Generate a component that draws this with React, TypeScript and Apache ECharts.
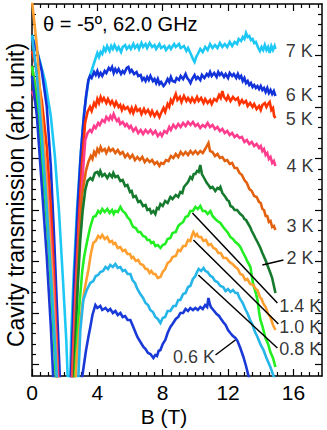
import React, { useEffect, useRef } from "react";
import * as echarts from "echarts";

const FONT = '"Liberation Sans", Arial, Helvetica, sans-serif';

// B (T) vs transmission (arb. unit)
const s7K = [[0, 34.1], [0.4, 32.0], [0.8, 29.5], [1.15, 26.0], [1.4, 22.0], [1.65, 16.5], [1.9, 9.5], [2.1, 3.5], [2.25, -3], [2.3, -3], [2.4, 4.0], [2.55, 10], [2.75, 16.5], [2.95, 21.5], [3.05, 23.6], [3.2, 26.5], [3.45, 29.5], [3.7, 30.8], [3.9, 31.8], [4.0, 32.3], [4.1, 31.9], [4.2, 32.4], [4.3, 32.2], [4.4, 32.8], [4.5, 32.5], [4.6, 33.0], [4.75, 32.5], [4.85, 33.0], [4.95, 32.7], [5.05, 33.1], [5.2, 32.6], [5.3, 32.9], [5.45, 32.4], [5.55, 32.9], [5.7, 33.1], [5.8, 32.7], [5.95, 33.0], [6.05, 32.7], [6.2, 33.2], [6.3, 32.8], [6.45, 33.1], [6.55, 32.7], [6.7, 33.3], [6.8, 32.9], [6.95, 33.2], [7.05, 32.8], [7.2, 33.3], [7.35, 32.9], [7.5, 33.1], [7.6, 32.7], [7.8, 33.2], [7.9, 32.8], [8.1, 33.0], [8.2, 32.6], [8.4, 33.0], [8.5, 32.7], [8.7, 33.2], [8.8, 32.9], [9.0, 33.2], [9.1, 32.8], [9.3, 33.0], [9.45, 32.5], [9.55, 32.8], [9.75, 32.1], [9.85, 31.7], [9.95, 31.4], [10.05, 31.9], [10.15, 32.2], [10.3, 32.7], [10.45, 32.4], [10.6, 32.9], [10.75, 32.6], [10.9, 33.2], [11.05, 32.8], [11.2, 33.1], [11.35, 32.8], [11.5, 33.3], [11.65, 32.9], [11.8, 33.2], [11.95, 32.9], [12.1, 33.4], [12.25, 33.0], [12.4, 33.4], [12.55, 33.2], [12.65, 33.7], [12.8, 33.5], [12.9, 33.9], [13.0, 33.7], [13.1, 34.3], [13.2, 33.9], [13.3, 34.0], [13.4, 33.6], [13.5, 33.7], [13.6, 33.3], [13.7, 33.4], [13.85, 32.8], [13.95, 32.5], [14.05, 32.9], [14.15, 32.6], [14.25, 33.1], [14.35, 32.6], [14.45, 32.9], [14.55, 32.3], [14.65, 33.0], [14.75, 32.6], [14.85, 33.0], [14.9, 32.7]];
const s6K = [[0, 33.8], [0.3, 32.5], [0.6, 30.5], [0.9, 27], [1.15, 21], [1.35, 14], [1.55, 6], [1.7, 0], [1.85, -4], [2.3, -4], [2.45, 3], [2.6, 10], [2.8, 17], [3.0, 22.5], [3.15, 25.5], [3.3, 27.9], [3.45, 29.6], [3.55, 30.0], [3.65, 29.8], [3.8, 30.4], [3.9, 30.1], [4.0, 30.5], [4.1, 30.0], [4.2, 30.3], [4.3, 30.0], [4.45, 30.5], [4.55, 30.3], [4.7, 30.8], [4.8, 30.6], [4.9, 30.9], [5.0, 30.3], [5.1, 30.7], [5.2, 30.4], [5.3, 30.7], [5.45, 30.2], [5.55, 30.5], [5.65, 30.3], [5.8, 30.8], [5.9, 30.9], [6.0, 30.4], [6.1, 30.6], [6.25, 30.2], [6.4, 30.4], [6.5, 30.0], [6.65, 30.1], [6.75, 29.6], [6.85, 29.8], [6.95, 29.5], [7.05, 29.9], [7.15, 29.6], [7.25, 30.0], [7.4, 29.5], [7.5, 29.7], [7.6, 29.3], [7.7, 29.7], [7.8, 29.2], [7.9, 29.4], [8.05, 29.0], [8.15, 29.2], [8.3, 29.7], [8.4, 29.4], [8.5, 29.9], [8.6, 29.5], [8.75, 29.4], [8.85, 29.8], [9.0, 29.6], [9.1, 30.0], [9.25, 29.7], [9.4, 30.2], [9.5, 29.8], [9.6, 29.6], [9.7, 29.3], [9.8, 29.7], [9.95, 30.1], [10.05, 29.7], [10.15, 29.9], [10.3, 29.6], [10.4, 30.1], [10.55, 29.8], [10.7, 30.2], [10.8, 30.0], [10.9, 30.4], [11.0, 30.0], [11.15, 30.3], [11.3, 29.9], [11.4, 30.4], [11.5, 30.1], [11.6, 30.3], [11.75, 29.9], [11.85, 30.2], [12.0, 29.8], [12.1, 30.3], [12.25, 30.0], [12.35, 30.2], [12.5, 29.8], [12.6, 30.2], [12.7, 29.8], [12.8, 30.0], [12.9, 29.5], [13.0, 29.8], [13.1, 29.3], [13.2, 29.5], [13.3, 29.1], [13.4, 29.3], [13.5, 28.9], [13.6, 29.1], [13.7, 28.8], [13.8, 29.0], [13.9, 28.7], [14.0, 29.0], [14.1, 28.6], [14.2, 28.8], [14.3, 28.4], [14.4, 28.8], [14.5, 28.3], [14.6, 28.6], [14.7, 28.2], [14.8, 28.5], [14.9, 28.0]];
const s5K = [[0, 32.5], [0.3, 30.5], [0.6, 27.5], [0.9, 23], [1.15, 17], [1.35, 10], [1.55, 2], [1.7, -4], [2.35, -4], [2.5, 2], [2.65, 8], [2.85, 15], [3.05, 21], [3.25, 25.3], [3.4, 26.4], [3.55, 26.9], [3.65, 26.5], [3.8, 27.3], [3.9, 27.0], [4.0, 27.7], [4.1, 27.3], [4.2, 27.9], [4.3, 27.5], [4.4, 27.8], [4.55, 27.3], [4.65, 27.7], [4.8, 27.2], [4.9, 27.5], [5.05, 27.0], [5.15, 27.4], [5.3, 26.9], [5.4, 27.1], [5.5, 26.6], [5.6, 27.0], [5.7, 26.7], [5.85, 26.9], [6.0, 26.4], [6.1, 26.8], [6.2, 26.3], [6.35, 26.9], [6.45, 26.5], [6.6, 26.7], [6.7, 26.2], [6.85, 26.7], [6.95, 26.3], [7.1, 26.6], [7.25, 26.1], [7.35, 26.5], [7.5, 26.0], [7.65, 26.4], [7.8, 25.9], [7.9, 26.3], [8.05, 26.8], [8.15, 26.4], [8.3, 27.2], [8.4, 26.9], [8.5, 27.6], [8.6, 27.3], [8.7, 27.8], [8.8, 28.2], [8.9, 27.6], [9.05, 27.9], [9.15, 27.4], [9.3, 28.0], [9.45, 27.5], [9.55, 27.8], [9.7, 27.4], [9.8, 27.8], [9.95, 27.4], [10.1, 27.9], [10.2, 27.5], [10.35, 27.8], [10.5, 27.3], [10.6, 27.7], [10.75, 27.3], [10.9, 27.6], [11.0, 27.2], [11.15, 27.7], [11.3, 27.5], [11.45, 28.1], [11.55, 27.8], [11.65, 28.5], [11.75, 27.9], [11.9, 27.6], [12.0, 28.0], [12.15, 27.5], [12.3, 27.9], [12.45, 27.6], [12.6, 27.8], [12.7, 27.2], [12.85, 27.6], [12.95, 27.3], [13.1, 27.5], [13.2, 27.0], [13.35, 27.3], [13.5, 26.9], [13.6, 27.2], [13.75, 26.7], [13.9, 27.0], [14.0, 26.6], [14.1, 27.1], [14.25, 27.3], [14.35, 26.9], [14.45, 27.2], [14.55, 27.4], [14.65, 26.6], [14.75, 26.8], [14.82, 26.0], [14.9, 25.8]];
const s4K = [[0, 28.5], [0.3, 27.0], [0.6, 24.5], [0.9, 20], [1.15, 14], [1.35, 8], [1.55, 1], [1.7, -4], [2.4, -4], [2.55, 3], [2.7, 9], [2.9, 15], [3.1, 20], [3.26, 23.6], [3.4, 24.3], [3.55, 24.6], [3.65, 24.4], [3.8, 25.0], [3.9, 24.8], [4.05, 25.3], [4.15, 25.1], [4.3, 25.6], [4.45, 25.4], [4.55, 25.9], [4.7, 25.6], [4.8, 26.0], [4.9, 25.7], [5.0, 26.2], [5.1, 25.8], [5.2, 25.5], [5.3, 25.7], [5.4, 25.2], [5.55, 25.4], [5.7, 25.0], [5.8, 25.2], [5.95, 24.8], [6.05, 25.0], [6.2, 24.5], [6.35, 24.8], [6.5, 24.3], [6.65, 24.6], [6.8, 24.2], [6.95, 24.6], [7.1, 24.3], [7.25, 24.6], [7.4, 24.2], [7.55, 24.5], [7.7, 24.0], [7.85, 24.3], [7.95, 24.0], [8.1, 24.5], [8.25, 24.3], [8.4, 24.9], [8.5, 24.6], [8.65, 25.1], [8.8, 24.8], [8.95, 25.2], [9.1, 24.9], [9.25, 25.3], [9.4, 25.0], [9.55, 25.4], [9.7, 25.1], [9.85, 25.4], [10.0, 25.0], [10.15, 25.2], [10.3, 24.8], [10.45, 25.1], [10.6, 24.9], [10.75, 25.3], [10.9, 24.9], [11.05, 25.1], [11.2, 24.7], [11.35, 24.9], [11.5, 24.5], [11.65, 24.7], [11.8, 24.3], [11.95, 24.5], [12.1, 24.1], [12.25, 24.3], [12.4, 23.9], [12.55, 24.1], [12.7, 23.8], [12.85, 23.9], [13.0, 23.4], [13.15, 23.6], [13.3, 23.2], [13.45, 23.4], [13.6, 23.0], [13.75, 23.2], [13.9, 22.8], [14.0, 23.0], [14.1, 22.5], [14.2, 22.7], [14.3, 22.1], [14.4, 22.3], [14.5, 21.7], [14.6, 21.9], [14.7, 21.3], [14.8, 21.5], [14.9, 21.0]];
const s3K = [[0, 31], [0.3, 28], [0.6, 23], [0.9, 17], [1.15, 11], [1.4, 4], [1.6, -3], [2.45, -4], [2.6, 3], [2.75, 9], [2.9, 14], [3.05, 18], [3.3, 20.5], [3.45, 21.4], [3.6, 22.0], [3.7, 21.7], [3.8, 22.4], [3.9, 22.1], [4.0, 22.7], [4.1, 22.4], [4.2, 22.9], [4.3, 22.5], [4.45, 22.7], [4.55, 22.3], [4.7, 22.8], [4.8, 22.5], [4.95, 22.7], [5.1, 22.3], [5.25, 22.6], [5.4, 22.2], [5.55, 22.4], [5.7, 21.9], [5.85, 22.2], [6.0, 21.8], [6.15, 22.1], [6.3, 21.6], [6.45, 21.9], [6.6, 21.6], [6.75, 21.9], [6.9, 21.4], [7.05, 21.7], [7.2, 21.4], [7.35, 21.6], [7.5, 21.2], [7.65, 21.4], [7.8, 21.0], [7.9, 21.3], [8.05, 21.2], [8.2, 21.6], [8.35, 21.5], [8.5, 22.0], [8.65, 21.8], [8.8, 22.2], [8.95, 21.9], [9.1, 22.4], [9.25, 22.1], [9.4, 22.4], [9.55, 22.1], [9.7, 22.5], [9.85, 22.2], [10.0, 22.5], [10.15, 22.2], [10.3, 22.5], [10.45, 22.3], [10.6, 22.7], [10.7, 23.0], [10.8, 23.3], [10.9, 22.5], [11.05, 22.4], [11.2, 22.0], [11.35, 22.2], [11.5, 21.8], [11.65, 21.9], [11.8, 21.5], [11.95, 21.6], [12.1, 21.2], [12.25, 21.3], [12.4, 20.8], [12.55, 20.8], [12.7, 20.3], [12.85, 20.1], [13.0, 19.6], [13.15, 19.3], [13.3, 18.7], [13.45, 18.5], [13.6, 18.0], [13.75, 17.9], [13.9, 17.4], [14.0, 17.3], [14.1, 16.7], [14.2, 16.6], [14.3, 16.0], [14.4, 16.0], [14.5, 15.4], [14.6, 15.5], [14.7, 14.9], [14.8, 15.0], [14.9, 14.6]];
const s2K = [[0, 30], [0.3, 26.5], [0.6, 21.5], [0.9, 16], [1.15, 10], [1.4, 3], [1.55, -3], [2.5, -4], [2.65, 3], [2.8, 9], [2.95, 13.5], [3.1, 16.5], [3.26, 18.6], [3.4, 19.5], [3.57, 19.8], [3.7, 19.6], [3.85, 20.3], [4.0, 20.4], [4.1, 20.1], [4.18, 20.5], [4.3, 20.0], [4.45, 20.2], [4.61, 19.8], [4.75, 20.2], [4.9, 19.9], [4.98, 20.3], [5.1, 19.9], [5.25, 20.0], [5.41, 19.5], [5.55, 19.6], [5.7, 19.0], [5.84, 19.1], [6.0, 18.4], [6.1, 18.5], [6.2, 17.9], [6.35, 18.0], [6.5, 17.4], [6.63, 17.5], [6.8, 17.0], [6.95, 17.1], [7.06, 16.6], [7.2, 16.7], [7.3, 16.3], [7.43, 16.5], [7.55, 16.2], [7.65, 16.8], [7.75, 16.7], [7.86, 17.2], [8.0, 17.0], [8.15, 17.5], [8.3, 17.3], [8.47, 17.9], [8.6, 17.7], [8.8, 18.1], [8.95, 17.9], [9.08, 18.4], [9.2, 18.3], [9.3, 18.9], [9.4, 19.1], [9.55, 19.4], [9.69, 19.9], [9.8, 19.7], [9.9, 20.2], [10.0, 20.2], [10.1, 20.5], [10.2, 20.4], [10.3, 21.1], [10.4, 20.2], [10.5, 19.9], [10.6, 19.6], [10.7, 19.3], [10.8, 19.1], [10.92, 18.8], [11.05, 18.9], [11.22, 18.5], [11.35, 18.8], [11.45, 18.7], [11.53, 18.9], [11.65, 18.3], [11.84, 17.9], [11.95, 17.6], [12.05, 17.5], [12.15, 17.0], [12.27, 16.9], [12.4, 16.6], [12.55, 16.6], [12.75, 16.2], [12.9, 16.0], [13.0, 15.7], [13.1, 15.6], [13.24, 15.2], [13.35, 14.9], [13.45, 14.5], [13.55, 14.2], [13.67, 13.8], [13.8, 13.4], [13.98, 12.8], [14.1, 12.3], [14.29, 11.6], [14.45, 10.9], [14.59, 10.3], [14.7, 9.8], [14.78, 9.2], [14.9, 8.3]];
const s1p4K = [[0, 31], [0.3, 27.5], [0.6, 22], [0.9, 16], [1.15, 9.5], [1.4, 2], [1.55, -3], [2.5, -4], [2.7, 2], [2.85, 6], [3.08, 10.6], [3.2, 12.0], [3.39, 13.6], [3.55, 14.8], [3.75, 15.9], [3.9, 16.0], [4.05, 16.5], [4.18, 16.3], [4.3, 16.7], [4.45, 16.4], [4.61, 16.7], [4.75, 16.3], [4.9, 16.6], [5.0, 16.2], [5.1, 16.5], [5.25, 16.4], [5.41, 16.9], [5.55, 16.5], [5.7, 16.3], [5.84, 15.9], [6.0, 15.6], [6.1, 15.2], [6.2, 14.9], [6.35, 14.8], [6.5, 14.4], [6.63, 14.4], [6.8, 14.0], [6.95, 13.9], [7.06, 13.6], [7.2, 13.6], [7.3, 13.3], [7.43, 13.4], [7.55, 13.0], [7.7, 13.1], [7.86, 12.8], [8.0, 13.1], [8.15, 13.2], [8.3, 13.7], [8.47, 13.8], [8.6, 14.3], [8.8, 14.4], [8.95, 15.0], [9.08, 15.2], [9.25, 15.4], [9.4, 15.9], [9.55, 16.0], [9.69, 16.5], [9.85, 16.5], [10.0, 16.9], [10.15, 16.7], [10.3, 17.0], [10.45, 16.5], [10.61, 16.5], [10.75, 16.2], [10.92, 16.5], [11.05, 16.0], [11.22, 15.7], [11.35, 15.5], [11.53, 15.3], [11.7, 14.9], [11.85, 14.6], [12.0, 14.3], [12.14, 13.9], [12.3, 13.7], [12.45, 13.4], [12.6, 13.2], [12.75, 12.9], [12.9, 12.4], [13.06, 11.9], [13.2, 11.4], [13.37, 10.9], [13.45, 10.0], [13.55, 9.1], [13.7, 8.3], [13.8, 7.6], [13.9, 6.4], [13.98, 5.6], [14.1, 5.0], [14.29, 3.8], [14.45, 3.2], [14.59, 2.4], [14.75, 1.8], [14.9, 0.9]];
const s1p0K = [[0, 37.5], [0.3, 33], [0.6, 26], [0.9, 19], [1.2, 11], [1.45, 3], [1.6, -3], [2.55, -4], [2.75, 2], [2.95, 5.5], [3.2, 8.5], [3.45, 10.6], [3.6, 12.2], [3.75, 13.3], [3.9, 13.5], [4.05, 14.0], [4.18, 13.8], [4.3, 14.1], [4.45, 13.7], [4.61, 13.9], [4.75, 13.4], [4.9, 13.5], [4.98, 13.2], [5.1, 13.3], [5.25, 12.8], [5.41, 12.9], [5.55, 12.5], [5.7, 12.6], [5.84, 12.2], [6.0, 12.2], [6.1, 11.8], [6.2, 11.9], [6.35, 11.5], [6.5, 11.6], [6.63, 11.2], [6.8, 11.1], [6.95, 10.7], [7.06, 10.7], [7.2, 10.3], [7.3, 10.5], [7.43, 10.2], [7.55, 10.2], [7.7, 9.8], [7.86, 9.9], [8.0, 10.4], [8.15, 10.7], [8.3, 11.3], [8.47, 11.5], [8.6, 11.9], [8.8, 12.0], [8.95, 12.6], [9.08, 12.5], [9.25, 13.0], [9.4, 13.0], [9.55, 13.6], [9.69, 13.5], [9.8, 14.1], [9.88, 14.4], [10.0, 14.0], [10.1, 14.2], [10.2, 13.9], [10.35, 13.9], [10.49, 13.5], [10.65, 13.6], [10.8, 13.1], [10.95, 13.2], [11.1, 12.8], [11.25, 12.7], [11.4, 12.3], [11.55, 12.3], [11.72, 11.8], [11.9, 11.8], [12.1, 11.4], [12.27, 11.2], [12.45, 10.9], [12.6, 10.7], [12.75, 10.2], [12.9, 10.1], [13.05, 9.6], [13.18, 9.7], [13.35, 9.2], [13.55, 9.1], [13.7, 8.7], [13.8, 8.6], [13.95, 7.9], [14.05, 7.7], [14.17, 7.2], [14.3, 6.9], [14.45, 6.2], [14.59, 5.9], [14.75, 5.1], [14.9, 4.6]];
const s0p8K = [[0, 34], [0.3, 30], [0.6, 24], [0.9, 17], [1.2, 9], [1.45, 2], [1.6, -3], [2.6, -4], [2.84, 0], [2.96, 4.6], [3.14, 7.6], [3.35, 8.6], [3.57, 9.3], [3.75, 9.5], [3.9, 10.0], [4.05, 10.1], [4.18, 10.4], [4.35, 10.5], [4.5, 10.9], [4.65, 10.7], [4.79, 11.1], [4.95, 10.9], [5.1, 11.2], [5.25, 10.8], [5.41, 10.9], [5.55, 10.5], [5.7, 10.6], [5.85, 10.2], [6.02, 10.2], [6.15, 9.6], [6.3, 9.3], [6.45, 8.7], [6.63, 8.2], [6.8, 7.8], [6.95, 7.3], [7.1, 7.1], [7.24, 6.6], [7.4, 6.4], [7.55, 5.9], [7.7, 5.7], [7.86, 5.3], [8.0, 5.8], [8.15, 5.9], [8.3, 6.5], [8.47, 6.5], [8.65, 7.0], [8.8, 7.0], [8.95, 7.6], [9.08, 7.6], [9.25, 8.2], [9.4, 8.3], [9.55, 8.9], [9.69, 9.0], [9.85, 9.7], [10.0, 10.0], [10.1, 10.4], [10.2, 10.7], [10.35, 10.5], [10.5, 10.8], [10.61, 10.5], [10.75, 10.4], [10.92, 10.0], [11.05, 9.9], [11.2, 9.5], [11.35, 9.4], [11.53, 9.0], [11.7, 8.9], [11.85, 8.5], [12.0, 8.7], [12.15, 8.4], [12.3, 8.6], [12.45, 8.3], [12.58, 8.3], [12.7, 7.8], [12.9, 7.3], [13.05, 6.7], [13.18, 6.3], [13.35, 5.6], [13.5, 5.1], [13.65, 4.4], [13.8, 3.9], [14.0, 3.1], [14.17, 2.6], [14.35, 1.8], [14.59, 0.9], [14.78, 0], [14.9, -0.4]];
const s0p6K = [[0, 30], [0.3, 26], [0.6, 19], [0.9, 12], [1.15, 5], [1.35, -2], [2.7, -4], [3.0, -1], [3.08, 0], [3.3, 2.5], [3.45, 3.9], [3.57, 4.9], [3.7, 6.1], [3.88, 7.1], [4.0, 6.8], [4.18, 7.0], [4.3, 6.6], [4.5, 6.8], [4.65, 6.5], [4.79, 6.7], [4.95, 6.3], [5.1, 6.5], [5.25, 6.1], [5.41, 6.3], [5.55, 5.9], [5.7, 6.0], [5.85, 5.6], [6.02, 5.6], [6.15, 5.1], [6.25, 4.7], [6.35, 4.3], [6.45, 3.9], [6.6, 3.5], [6.82, 2.9], [6.95, 2.7], [7.1, 2.3], [7.25, 2.2], [7.43, 1.8], [7.55, 2.1], [7.65, 2.0], [7.75, 2.5], [7.86, 2.6], [8.0, 3.2], [8.16, 3.6], [8.3, 4.3], [8.47, 4.9], [8.6, 5.2], [8.8, 5.7], [8.95, 5.9], [9.08, 6.3], [9.25, 6.3], [9.4, 6.7], [9.55, 6.5], [9.69, 6.8], [9.85, 6.6], [10.0, 6.8], [10.15, 6.6], [10.3, 6.9], [10.45, 6.7], [10.6, 7.1], [10.72, 6.9], [10.8, 7.8], [10.88, 7.2], [10.95, 6.9], [11.1, 6.6], [11.3, 6.2], [11.45, 6.0], [11.53, 5.8], [11.7, 5.4], [11.85, 5.1], [12.0, 4.6], [12.14, 4.3], [12.3, 4.0], [12.45, 3.8], [12.58, 3.5], [12.75, 2.8], [12.94, 1.9], [13.1, 1.0], [13.25, 0], [13.4, -0.9]];

const curves = [
  { name: "7 K", color: "#1EC8F5", data: s7K },
  { name: "6 K", color: "#1233D9", data: s6K },
  { name: "5 K", color: "#FF3300", data: s5K },
  { name: "4 K", color: "#FF3D8E", data: s4K },
  { name: "3 K", color: "#E2600E", data: s3K },
  { name: "2 K", color: "#157A2D", data: s2K },
  { name: "1.4 K", color: "#22EE22", data: s1p4K },
  { name: "1.0 K", color: "#FF9F2F", data: s1p0K },
  { name: "0.8 K", color: "#25B5E8", data: s0p8K },
  { name: "0.6 K", color: "#1A3AD8", data: s0p6K },
];

// temperature labels (left-middle anchor, data coords)
const labelTexts = ["7 K", "6 K", "5 K", "4 K", "3 K", "2 K", "1.4 K", "1.0 K", "0.8 K", "0.6 K"];
const labelB = [15.5, 15.5, 15.5, 15.55, 15.55, 15.55, 15.1, 15.1, 15.1, 8.6];
const labelY = [32.55, 28.1, 25.7, 21.0, 15.0, 11.85, 7.0, 4.9, 2.7, 1.9];

// leader lines [B1, y1, B2, y2]
const leaders = [
  [14.1, 11.1, 15.39, 11.6],
  [9.82, 16.3, 15.02, 7.3],
  [9.88, 13.6, 15.08, 5.2],
  [10.18, 10.1, 15.02, 2.8],
  [11.23, 2.1, 12.45, 3.6],
];

const xLabelTicks = [0, 4, 8, 12, 16];
const xMajorTicks = [0, 4, 8, 12, 16];
const xMinorTicks = [0.5, 1, 1.5, 2, 2.5, 3, 3.5, 4.5, 5, 5.5, 6, 6.5, 7, 7.5, 8.5, 9, 9.5, 10, 10.5, 11, 11.5, 12.5, 13, 13.5, 14, 14.5, 15, 15.5, 16.5, 17, 17.5];
const yMajorTicks = [1.15, 6.3, 11.45, 16.6, 21.75, 26.9, 32.05];
const yMinorTicks = [2.18, 3.21, 4.24, 5.27, 7.33, 8.36, 9.39, 10.42, 12.48, 13.51, 14.54, 15.57, 17.63, 18.66, 19.69, 20.72, 22.78, 23.81, 24.84, 25.87, 27.93, 28.96, 29.99, 31.02, 33.08, 34.11, 35.14, 36.17];

const X_MAX = 17.75;
const Y_MAX = 37.2;

function makeX(position: string, major: boolean, first: boolean) {
  return {
    type: "value",
    position,
    min: 0,
    max: X_MAX,
    axisLine: { show: first, onZero: false, lineStyle: { color: "#000", width: 1.5 } },
    axisTick: {
      show: true,
      inside: true,
      length: major ? 7 : 4,
      customValues: major ? xMajorTicks : xMinorTicks,
      lineStyle: { color: "#000", width: 1.2 },
    },
    axisLabel: position === "bottom" && major
      ? { show: true, customValues: xLabelTicks, fontSize: 21, color: "#000", margin: 6, fontFamily: FONT }
      : { show: false },
    splitLine: { show: false },
  };
}
function makeY(position: string, major: boolean, first: boolean) {
  return {
    type: "value",
    position,
    min: 0,
    max: Y_MAX,
    axisLine: { show: first, onZero: false, lineStyle: { color: "#000", width: 1.5 } },
    axisTick: {
      show: true,
      inside: true,
      length: major ? 7 : 4,
      customValues: major ? yMajorTicks : yMinorTicks,
      lineStyle: { color: "#000", width: 1.2 },
    },
    axisLabel: { show: false },
    splitLine: { show: false },
  };
}

export default function App() {
  const ref = useRef<HTMLDivElement>(null);
  useEffect(() => {
    if (!ref.current) return;
    const chart = echarts.init(ref.current, undefined, { renderer: "svg" });
    const series: any[] = curves.map((c) => ({
      type: "line",
      name: c.name,
      data: c.data,
      xAxisIndex: 0,
      yAxisIndex: 0,
      showSymbol: false,
      symbol: "none",
      clip: true,
      lineStyle: { color: c.color, width: 2.6, join: "miter" },
      itemStyle: { color: c.color },
      z: 3,
    }));
    leaders.forEach((l) => {
      series.push({
        type: "line",
        data: [[l[0], l[1]], [l[2], l[3]]],
        xAxisIndex: 0,
        yAxisIndex: 0,
        showSymbol: false,
        symbol: "none",
        lineStyle: { color: "#000", width: 1.5 },
        z: 4,
      });
    });
    series.push({
      type: "scatter",
      xAxisIndex: 0,
      yAxisIndex: 0,
      symbolSize: 1,
      itemStyle: { color: "rgba(0,0,0,0)" },
      z: 5,
      data: labelTexts.map((t, i) => ({
        value: [labelB[i], labelY[i]],
        label: { formatter: t },
      })),
      label: {
        show: true,
        position: "right",
        distance: 0,
        fontSize: 18,
        color: "#000",
        fontFamily: FONT,
      },
    });
    chart.setOption({
      animation: false,
      backgroundColor: "#fff",
      grid: { left: 32, right: 5, top: 4, bottom: 54, containLabel: false, outerBoundsMode: "none" },
      xAxis: [makeX("bottom", true, true), makeX("bottom", false, false), makeX("top", true, true), makeX("top", false, false)],
      yAxis: [makeY("left", true, true), makeY("left", false, false), makeY("right", true, true), makeY("right", false, false)],
      series,
      graphic: [
        {
          type: "text",
          left: 43,
          top: 14,
          style: { text: "θ = -5º, 62.0 GHz", font: `20px ${FONT}`, fill: "#000" },
          z: 10,
        },
        {
          type: "text",
          x: 16,
          y: 195,
          rotation: Math.PI / 2,
          style: { text: "Cavity transmission (arb. unit)", font: `23px ${FONT}`, fill: "#000", textAlign: "center", textVerticalAlign: "middle" },
          z: 10,
        },
        {
          type: "text",
          x: 164,
          y: 416,
          style: { text: "B (T)", font: `21px ${FONT}`, fill: "#000", textAlign: "center", textVerticalAlign: "middle" },
          z: 10,
        },
      ],
    });
    return () => chart.dispose();
  }, []);
  return <div ref={ref} style={{ position: "fixed", left: 0, top: 0, width: 327, height: 430 }} />;
}
